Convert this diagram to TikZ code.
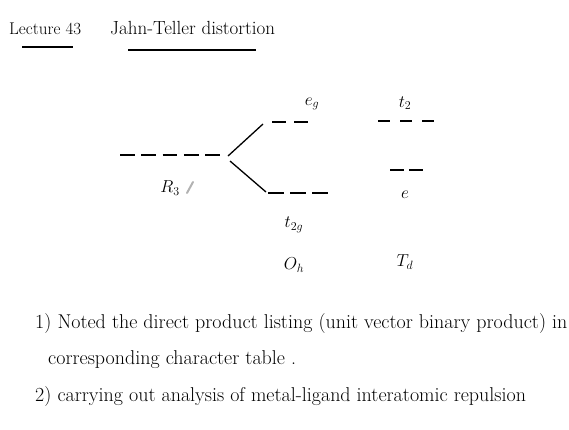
\documentclass[tikz,border=0pt]{standalone}
\usepackage{fontspec}
\begin{document}
\begin{tikzpicture}[x=1pt,y=-1pt,
  lvl/.style={line width=1.4pt, dash pattern=on 11pt off 6pt},
  conn/.style={line width=1.3pt},
  lab/.style={font=\fontsize{18}{20}\selectfont, inner sep=0pt},
  ttl/.style={font=\fontsize{17}{20}\selectfont, inner sep=0pt, anchor=base west},
  body/.style={font=\fontsize{20}{23}\selectfont, inner sep=0pt, anchor=base west},
  uline/.style={line width=1.2pt}]
\useasboundingbox (0,0) rectangle (569,429);
% title
\node[ttl] (lec) at (9,34) {Lecture 43};
\node[ttl, font=\fontsize{19}{22}\selectfont] (jt) at (110,34) {Jahn-Teller distortion};
\draw[uline] (22,47) -- (73,47);
\draw[uline] (128,50) -- (256,50);
% R3 level
\coordinate (r3a) at (120,155);
\coordinate (r3b) at (220,155);
\draw[lvl, dash pattern=on 14.8pt off 6.5pt] (r3a) -- (r3b);
\node[lab] (r3) at (170,188) {$R_3$};
\draw[gray!60, line width=2pt, line cap=round] (187,193) -- (193,182);
% Oh
\coordinate (ega) at (272,122);
\coordinate (egb) at (310,122);
\draw[lvl, dash pattern=on 14pt off 8pt] (ega) -- (egb);
\node[lab] (eg) at (312,104) {$e_g$};
\coordinate (t2ga) at (268,193);
\coordinate (t2gb) at (330,193);
\draw[line width=1.4pt, dash pattern=on 16pt off 6pt] (t2ga) -- (t2gb);
\node[lab] (t2g) at (294,225) {$t_{2g}$};
\node[lab] (oh) at (294,265) {$O_h$};
\draw[conn] (228,156) -- (263,124);
\draw[conn] (230,161) -- (266,192);
% Td
\coordinate (t2a) at (378,121);
\coordinate (t2b) at (435,121);
\draw[lvl, dash pattern=on 12pt off 10pt] (t2a) -- (t2b);
\node[lab] (t2) at (405,103) {$t_2$};
\coordinate (ea) at (390,170);
\coordinate (eb) at (423,170);
\draw[lvl, dash pattern=on 14pt off 5pt] (ea) -- (eb);
\node[lab] (e) at (405,195) {$e$};
\node[lab] (td) at (405,262) {$T_d$};
% body text
\node[body] (l1) at (35,328) {1) Noted the direct product listing (unit vector binary product) in};
\node[body] (l2) at (48,364) {corresponding character table .};
\node[body] (l3) at (35,401) {2) carrying out analysis of metal-ligand interatomic repulsion};
\end{tikzpicture}
\end{document}
